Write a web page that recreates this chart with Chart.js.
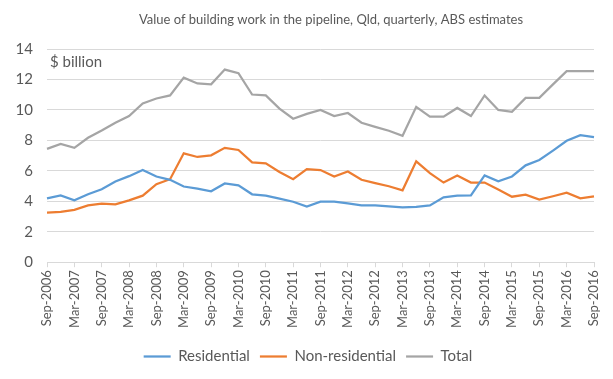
<!DOCTYPE html>
<html><head><meta charset="utf-8">
<script src="https://cdn.jsdelivr.net/npm/chart.js@4/dist/chart.umd.min.js"></script>
<style>html,body{margin:0;padding:0;background:#fff}#wrap{width:613px;height:379px}</style>
</head><body><div id="wrap"><canvas id="c"></canvas></div>
<script>
const categories = ["Sep-2006","Dec-2006","Mar-2007","Jun-2007","Sep-2007","Dec-2007","Mar-2008","Jun-2008","Sep-2008","Dec-2008","Mar-2009","Jun-2009","Sep-2009","Dec-2009","Mar-2010","Jun-2010","Sep-2010","Dec-2010","Mar-2011","Jun-2011","Sep-2011","Dec-2011","Mar-2012","Jun-2012","Sep-2012","Dec-2012","Mar-2013","Jun-2013","Sep-2013","Dec-2013","Mar-2014","Jun-2014","Sep-2014","Dec-2014","Mar-2015","Jun-2015","Sep-2015","Dec-2015","Mar-2016","Jun-2016","Sep-2016"];
const residential = [4.19,4.39,4.06,4.46,4.79,5.30,5.65,6.05,5.63,5.41,4.97,4.83,4.66,5.17,5.05,4.46,4.37,4.17,3.97,3.66,3.97,3.97,3.86,3.73,3.73,3.66,3.60,3.64,3.73,4.26,4.37,4.39,5.70,5.32,5.63,6.36,6.71,7.33,7.97,8.34,8.21];
const nonResidential = [3.25,3.31,3.44,3.73,3.84,3.80,4.06,4.37,5.12,5.45,7.15,6.91,7.02,7.51,7.37,6.56,6.49,5.92,5.45,6.11,6.05,5.63,5.96,5.41,5.19,4.99,4.72,6.62,5.85,5.23,5.70,5.23,5.23,4.77,4.30,4.44,4.11,4.33,4.57,4.19,4.33];
const total = [7.44,7.77,7.51,8.17,8.65,9.16,9.60,10.42,10.75,10.95,12.12,11.74,11.68,12.65,12.41,11.01,10.95,10.09,9.42,9.74,10.00,9.60,9.80,9.16,8.89,8.63,8.30,10.20,9.56,9.56,10.13,9.60,10.95,10.00,9.87,10.79,10.79,11.68,12.54,12.54,12.54];
const yTicks = [0,2,4,6,8,10,12,14];
const titleText = "Value of building work in the pipeline, Qld, quarterly, ABS estimates";
const unitText = "$ billion";

const FONT = "Lato, 'Open Sans', sans-serif";
const TXT = "#595959";

const textsPlugin = {
  id: 'textsPlugin',
  afterLayout(chart) {
    if (chart.legend) { chart.legend.left += 11; chart.legend.right += 11; }
  },
  afterDraw(chart) {
    const ctx = chart.ctx, a = chart.chartArea;
    ctx.save();
    ctx.fillStyle = TXT;
    ctx.textBaseline = 'middle';
    ctx.font = "13px " + FONT;
    ctx.textAlign = 'center';
    ctx.fillText(titleText, 331, 20);
    ctx.font = "15px " + FONT;
    ctx.textAlign = 'left';
    ctx.fillText(unitText, a.left + 3, a.top + 13);
    ctx.restore();
  }
};

const mk = (label, data, color) => ({
  label, data, borderColor: color, backgroundColor: color,
  borderWidth: 2.25, pointRadius: 0, tension: 0, fill: false
});

new Chart(document.getElementById('c'), {
  type: 'line',
  data: {
    labels: categories,
    datasets: [
      mk("Residential", residential, "#5b9bd5"),
      mk("Non-residential", nonResidential, "#ed7d31"),
      mk("Total", total, "#a5a5a5")
    ]
  },
  options: {
    responsive: true, maintainAspectRatio: false, animation: false,
    layout: { padding: { left: 0, right: 19, top: 49, bottom: 5 } },
    plugins: {
      title: { display: false },
      legend: {
        position: 'bottom',
        labels: { usePointStyle: true, pointStyle: 'line', pointStyleWidth: 27, boxWidth: 27, color: TXT, font: { family: FONT, size: 15 }, padding: 10 }
      },
      tooltip: { enabled: false }
    },
    scales: {
      x: {
        offset: false,
        afterFit(s) { s.height += 8; },
        grid: { drawOnChartArea: false, drawTicks: true, tickLength: 5, color: '#d9d9d9' },
        border: { color: '#d9d9d9' },
        ticks: {
          autoSkip: false, minRotation: 90, maxRotation: 90, color: TXT,
          font: { family: FONT, size: 13 }, padding: 3,
          callback(v, i) { return i % 2 === 0 ? categories[i] : null; }
        }
      },
      y: {
        min: 0, max: 14,
        afterFit(s) { s.width = 47; },
        afterBuildTicks(s) { s.ticks = yTicks.map(v => ({ value: v })); },
        grid: { color: '#d9d9d9', drawTicks: false },
        border: { display: false },
        ticks: { color: TXT, font: { family: FONT, size: 15 }, padding: 14 }
      }
    }
  },
  plugins: [textsPlugin]
});
</script></body></html>
